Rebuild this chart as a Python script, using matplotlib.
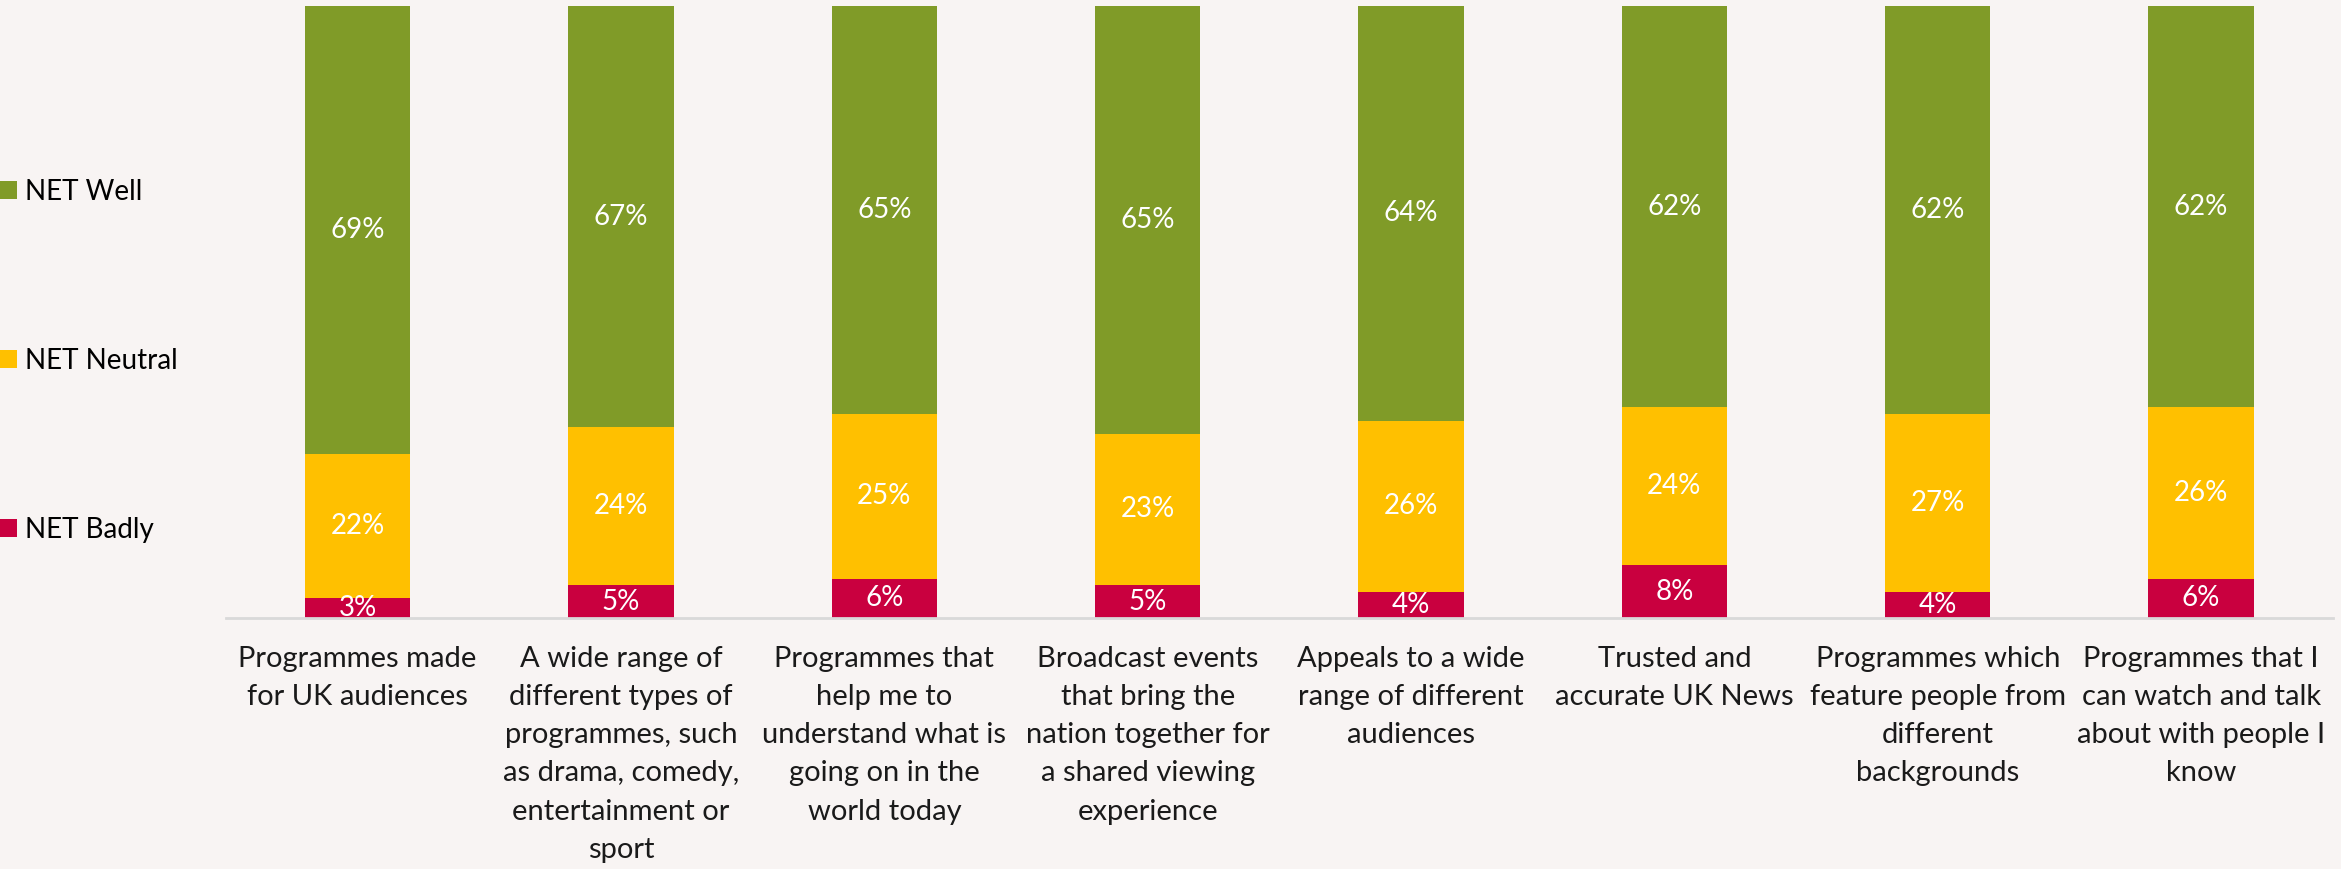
import numpy as np
import matplotlib.pyplot as plt

plt.rcParams['font.family'] = ['Lato', 'DejaVu Sans']

categories = [
    "Programmes made\nfor UK audiences",
    "A wide range of\ndifferent types of\nprogrammes, such\nas drama, comedy,\nentertainment or\nsport",
    "Programmes that\nhelp me to\nunderstand what is\ngoing on in the\nworld today",
    "Broadcast events\nthat bring the\nnation together for\na shared viewing\nexperience",
    "Appeals to a wide\nrange of different\naudiences",
    "Trusted and\naccurate UK News",
    "Programmes which\nfeature people from\ndifferent\nbackgrounds",
    "Programmes that I\ncan watch and talk\nabout with people I\nknow",
]
net_well = [69, 67, 65, 65, 64, 62, 62, 62]
net_neutral = [22, 24, 25, 23, 26, 24, 27, 26]
net_badly = [3, 5, 6, 5, 4, 8, 4, 6]

bg = '#f8f4f3'
c_well = '#809b28'
c_neutral = '#ffc000'
c_badly = '#c9003f'
fs = 20
ymax = 93

fig = plt.figure(figsize=(23.41, 8.69), dpi=100, facecolor=bg)
ax = fig.add_axes([0.0965, 0.2888, 0.900, 0.7043], facecolor=bg)

x = np.arange(len(categories))
badly = np.array(net_badly)
neutral = np.array(net_neutral)
well = np.array(net_well)

b1 = ax.bar(x, badly, width=0.4, color=c_badly, label='NET Badly')
b2 = ax.bar(x, neutral, width=0.4, bottom=badly, color=c_neutral, label='NET Neutral')
b3 = ax.bar(x, well, width=0.4, bottom=badly + neutral, color=c_well, label='NET Well')

ax.set_ylim(0, ymax)
ax.set_xlim(-0.5, len(categories) - 0.5)

# value labels sit in the middle of the visible part of each segment
for vals, bottoms in [(badly, np.zeros(len(x))), (neutral, badly), (well, badly + neutral)]:
    for xi, v, b in zip(x, vals, bottoms):
        top = min(b + v, ymax)
        ax.text(xi, (b + top) / 2, f'{v}%', ha='center', va='center',
                color='white', fontsize=fs, clip_on=True)

for s in ['top', 'left', 'right']:
    ax.spines[s].set_visible(False)
ax.spines['bottom'].set_color('#d9d9d9')
ax.spines['bottom'].set_linewidth(2)
ax.set_yticks([])
ax.set_xticks(x)
ax.set_xticklabels(categories, fontsize=21, color='#1a1a1a', linespacing=1.58)
ax.tick_params(axis='x', length=0, pad=20)

fig.legend(handles=[b3, b2, b1], loc='upper left', bbox_to_anchor=(0.0, 0.794),
           frameon=False, fontsize=fs, handlelength=0.6, handleheight=0.6,
           handletextpad=0.3, labelspacing=5.14, borderaxespad=0, borderpad=0)

fig.savefig('out.png', dpi=100, facecolor=bg)
